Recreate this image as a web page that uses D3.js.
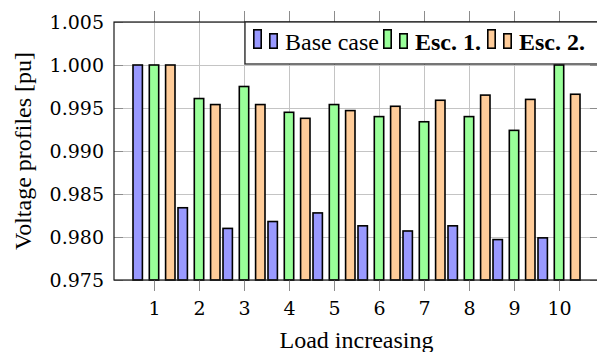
<!DOCTYPE html>
<html>
<head>
<meta charset="utf-8">
<script src="https://cdn.jsdelivr.net/npm/d3@7"></script>
<style>
  body { margin: 0; background: #fff; }
  svg { display: block; }
  .times { font-family: "Liberation Serif", "Times New Roman", Times, serif; }
  .cm { font-family: "DejaVu Serif", "Liberation Serif", serif; }
</style>
</head>
<body>
<div id="chart"></div>
<script>
// data
var categories = [1, 2, 3, 4, 5, 6, 7, 8, 9, 10];
var baseCase = [1.000, 0.9834, 0.9810, 0.9818, 0.9828, 0.9813, 0.9807, 0.9813, 0.9797, 0.9799];
var esc1 = [1.000, 0.9961, 0.9975, 0.9945, 0.9954, 0.9940, 0.9934, 0.9940, 0.9924, 1.000];
var esc2 = [1.000, 0.9954, 0.9954, 0.9938, 0.9947, 0.9952, 0.9959, 0.9965, 0.9960, 0.9966];
var yTicks = [0.975, 0.980, 0.985, 0.990, 0.995, 1.000, 1.005];
var seriesNames = ["Base case", "Esc. 1.", "Esc. 2."];

var series = [
  { name: seriesNames[0], values: baseCase, fill: "#9999ff", bold: false },
  { name: seriesNames[1], values: esc1, fill: "#99ff99", bold: true },
  { name: seriesNames[2], values: esc2, fill: "#ffcc99", bold: true }
];

var width = 597, height = 352;
var margin = { left: 114, top: 22, right: -2, bottom: 72 };
var plotW = width - margin.left - margin.right;
var plotH = height - margin.top - margin.bottom;

var svg = d3.select("#chart").append("svg")
  .attr("width", width)
  .attr("height", height);

var x = d3.scaleLinear()
  .domain([1 - 40 / 45, 10 + 40 / 45])
  .range([0, plotW]);

var y = d3.scaleLinear()
  .domain([0.975, 1.005])
  .range([plotH, 0]);

// offsets of the three bars inside a group
var xInner = d3.scaleBand()
  .domain(seriesNames)
  .range([-21.8, 21.8])
  .paddingInner(0.325)
  .paddingOuter(0);

var g = svg.append("g")
  .attr("transform", "translate(" + [margin.left, margin.top] + ")");

// grid
g.append("g")
  .call(d3.axisLeft(y).tickValues(yTicks).tickSize(-plotW).tickFormat(""))
  .call(function (s) {
    s.select(".domain").remove();
    s.selectAll("line").attr("stroke", "#c4c4c4").attr("stroke-width", 1);
  });

g.append("g")
  .attr("transform", "translate(0," + plotH + ")")
  .call(d3.axisBottom(x).tickValues(categories).tickSize(-plotH).tickFormat(""))
  .call(function (s) {
    s.select(".domain").remove();
    s.selectAll("line").attr("stroke", "#c4c4c4").attr("stroke-width", 1);
  });

// bars
var stroke = 1.6;
series.forEach(function (sr) {
  g.append("g")
    .selectAll("rect")
    .data(categories)
    .enter()
    .append("rect")
    .attr("x", function (c) { return x(c) + xInner(sr.name) + stroke / 2; })
    .attr("width", xInner.bandwidth() - stroke)
    .attr("y", function (c, i) { return y(sr.values[i]); })
    .attr("height", function (c, i) { return y(0.975) - y(sr.values[i]); })
    .attr("fill", sr.fill)
    .attr("stroke", "#000")
    .attr("stroke-width", stroke);
});

// ticks
var tickColor = "#8c8c8c";

g.append("g")
  .call(d3.axisLeft(y).tickValues(yTicks).tickSize(-9).tickPadding(10).tickFormat(d3.format(".3f")))
  .call(function (s) {
    s.attr("font-family", null).attr("font-size", null);
    s.select(".domain").remove();
    s.selectAll("line").attr("stroke", tickColor);
    s.selectAll("text")
      .attr("class", "cm")
      .style("font-size", "19px")
      .attr("fill", "#000");
  });

g.append("g")
  .attr("transform", "translate(" + plotW + ",0)")
  .call(d3.axisRight(y).tickValues(yTicks).tickSize(-9).tickFormat(""))
  .call(function (s) {
    s.select(".domain").remove();
    s.selectAll("line").attr("stroke", tickColor);
  });

g.append("g")
  .attr("transform", "translate(0," + plotH + ")")
  .call(d3.axisBottom(x).tickValues(categories).tickSize(11).tickPadding(11).tickFormat(d3.format("d")))
  .call(function (s) {
    s.attr("font-family", null).attr("font-size", null);
    s.select(".domain").remove();
    s.selectAll("line").attr("stroke", tickColor);
    s.selectAll("text")
      .attr("class", "cm")
      .style("font-size", "19px")
      .attr("fill", "#000");
  });

g.append("g")
  .call(d3.axisTop(x).tickValues(categories).tickSize(11).tickFormat(""))
  .call(function (s) {
    s.select(".domain").remove();
    s.selectAll("line").attr("stroke", tickColor);
  });

// frame
g.append("rect")
  .attr("width", plotW)
  .attr("height", plotH)
  .attr("fill", "none")
  .attr("stroke", "#1a1a1a")
  .attr("stroke-width", 1.2);

// axis labels
svg.append("text")
  .attr("class", "times")
  .attr("x", margin.left + x(5.5))
  .attr("y", 348)
  .attr("text-anchor", "middle")
  .style("font-size", "24px")
  .text("Load increasing");

svg.append("text")
  .attr("class", "times")
  .attr("transform", "translate(31," + (margin.top + plotH / 2) + ") rotate(-90)")
  .attr("text-anchor", "middle")
  .style("font-size", "24px")
  .text("Voltage profiles [pu]");

// legend
var legend = svg.append("g").attr("transform", "translate(245,22)");
legend.append("rect")
  .attr("width", 360)
  .attr("height", 42)
  .attr("fill", "#fff")
  .attr("stroke", "#1a1a1a")
  .attr("stroke-width", 1.2);

var entryX = [8, 138, 242];
series.forEach(function (sr, i) {
  var e = legend.append("g").attr("transform", "translate(" + entryX[i] + ",0)");
  e.append("rect")
    .attr("x", 0.8).attr("y", 7.8)
    .attr("width", 7.4).attr("height", 18.4)
    .attr("fill", sr.fill).attr("stroke", "#000").attr("stroke-width", stroke);
  e.append("rect")
    .attr("x", 16.8).attr("y", 11.8)
    .attr("width", 7.4).attr("height", 14.4)
    .attr("fill", sr.fill).attr("stroke", "#000").attr("stroke-width", stroke);
  e.append("text")
    .attr("class", "times")
    .attr("x", 32)
    .attr("y", 28)
    .style("font-size", "24px")
    .style("font-weight", sr.bold ? "bold" : "normal")
    .text(sr.name);
});
</script>
</body>
</html>
